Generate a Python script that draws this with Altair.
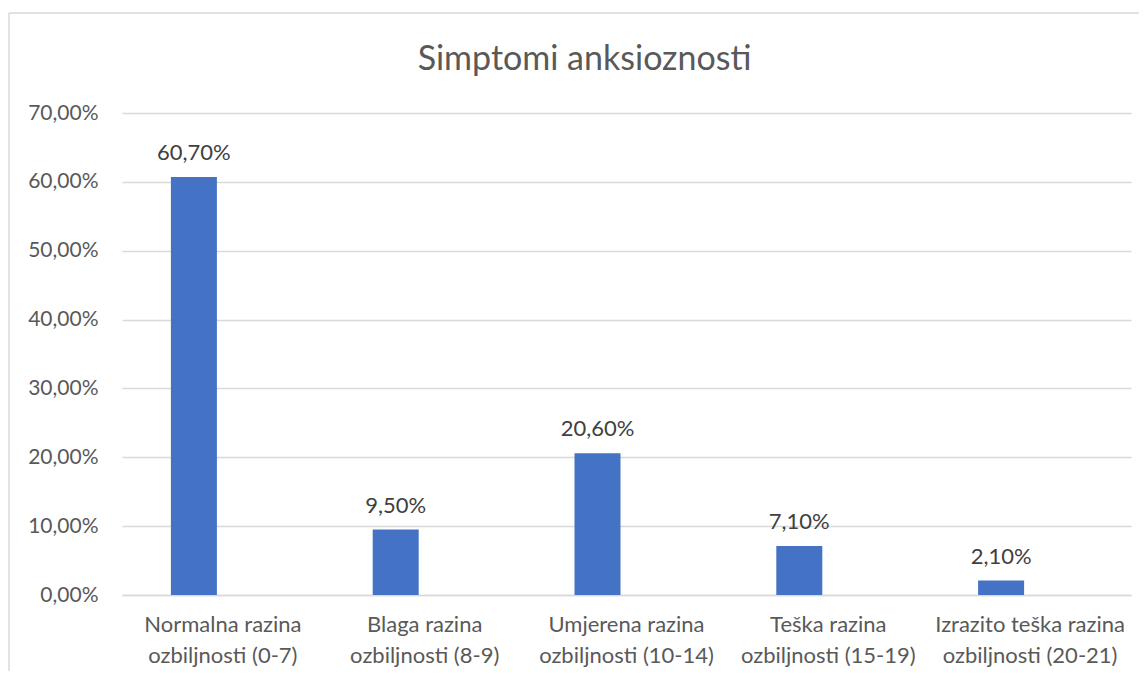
import altair as alt
import pandas as pd

categories = [
    "Normalna razina\nozbiljnosti (0-7)",
    "Blaga razina\nozbiljnosti (8-9)",
    "Umjerena razina\nozbiljnosti (10-14)",
    "Teška razina\nozbiljnosti (15-19)",
    "Izrazito teška razina\nozbiljnosti (20-21)",
]
values = [60.7, 9.5, 20.6, 7.1, 2.1]
y_ticks = [0, 10, 20, 30, 40, 50, 60, 70]
title_text = "Simptomi anksioznosti"

df = pd.DataFrame({"cat": categories, "val": values})
df["label"] = [f"{v:.2f}".replace(".", ",") + "%" for v in values]

FONT = "Lato"
GREY = "#595959"
W, H = 1009, 482

x = alt.X("cat:N", sort=categories, title=None,
          scale=alt.Scale(paddingInner=0, paddingOuter=0),
          axis=alt.Axis(labelExpr="split(datum.label, '\\n')", labelAngle=0,
                        labelFontSize=22, labelColor=GREY, labelFont=FONT,
                        labelLineHeight=31, labelPadding=19, ticks=False,
                        labelLimit=400,
                        domainColor="#d9d9d9", domainWidth=1.5, grid=False))
y = alt.Y("val:Q", title=None,
          scale=alt.Scale(domain=[0, 70], nice=False),
          axis=alt.Axis(values=y_ticks,
                        labelExpr="replace(format(datum.value, '.2f'), '.', ',') + '%'",
                        labelFontSize=21, labelColor=GREY, labelFont=FONT,
                        labelPadding=24, ticks=False, domain=False,
                        gridColor="#d9d9d9", gridWidth=1.3))

base = alt.Chart(df)
bars = base.mark_bar(size=46, xOffset=-29, color="#4472C4").encode(x=x, y=y)
texts = base.mark_text(xOffset=-29, dy=-12, baseline="bottom", fontSize=22,
                       font=FONT, color="#404040").encode(x=x, y=y, text="label:N")

one = pd.DataFrame({"t": [title_text]})
title = alt.Chart(one).mark_text(fontSize=34, font=FONT, color=GREY,
                                 baseline="middle", align="center").encode(
    x=alt.value(W / 2 - 42), y=alt.value(-53), text="t:N")

border_left = alt.Chart(one).mark_rule(color="#d9d9d9", strokeWidth=1.5).encode(
    x=alt.value(-113), y=alt.value(-100), y2=alt.value(H + 80))
border_top = alt.Chart(one).mark_rule(color="#d9d9d9", strokeWidth=1.5).encode(
    x=alt.value(-113), x2=alt.value(W + 8), y=alt.value(-100))

chart = alt.layer(border_left, border_top, bars, texts, title).properties(
    width=W, height=H,
    padding={"left": 114, "top": 105, "right": 8, "bottom": 76},
    autosize=alt.AutoSizeParams(type="none"),
).configure(background="white").configure_view(stroke=None)

chart.save("out.html", embed_options={"renderer": "svg", "actions": False})
